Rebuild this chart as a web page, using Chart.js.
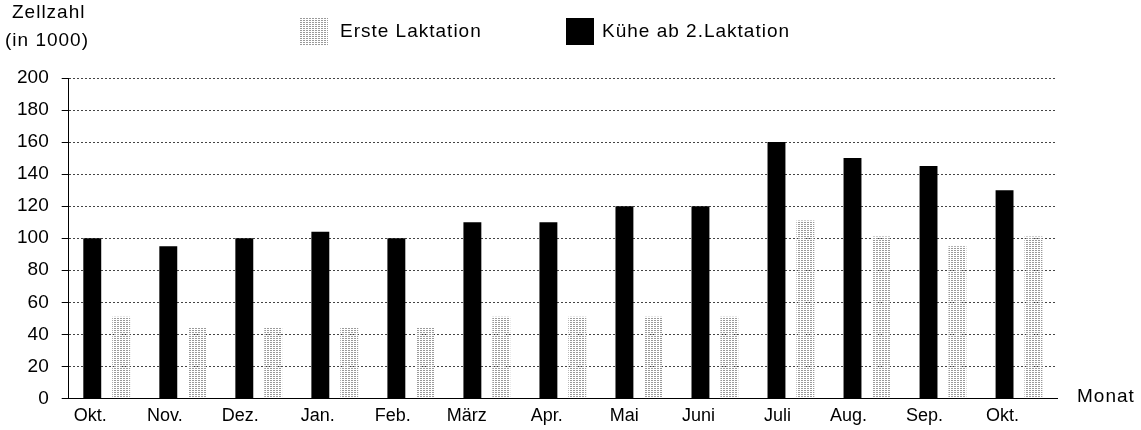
<!DOCTYPE html>
<html>
<head>
<meta charset="utf-8">
<script src="https://cdn.jsdelivr.net/npm/chart.js@4/dist/chart.umd.min.js"></script>
<style>
  html, body { margin: 0; padding: 0; background: #fff; }
  #wrap { width: 1141px; height: 430px; position: relative; }
</style>
</head>
<body>
<div id="wrap"><canvas id="zellChart"></canvas></div>
<script>
const months = ['Okt.', 'Nov.', 'Dez.', 'Jan.', 'Feb.', 'März', 'Apr.', 'Mai', 'Juni', 'Juli', 'Aug.', 'Sep.', 'Okt.'];
const kueheAb2 = [100, 95, 100, 104, 100, 110, 110, 120, 120, 160, 150, 145, 130];
const ersteLaktation = [51, 44, 44, 44, 44, 51, 51, 51, 51, 111, 101, 95, 101];
const yTicks = [0, 20, 40, 60, 80, 100, 120, 140, 160, 180, 200];

const FONT = '"Liberation Sans", Arial, sans-serif';

// light gray dot pattern for the first-lactation bars
function dotPattern() {
    const c = document.createElement('canvas');
    c.width = 3;
    c.height = 2;
    const g = c.getContext('2d');
    g.fillStyle = '#9a9a9a';
    g.fillRect(0, 0, 2, 1);
    return g.createPattern(c, 'repeat');
}

// axis captions + legend drawn by hand (legend sits beside the y caption)
const captions = {
    id: 'captions',
    afterDraw(chart) {
        const ctx = chart.ctx;
        ctx.save();
        ctx.fillStyle = '#000';
        ctx.font = '19px ' + FONT;
        ctx.letterSpacing = '1px';
        ctx.textBaseline = 'top';
        ctx.textAlign = 'left';
        ctx.fillText('Zellzahl', 12, 3);
        ctx.fillText('(in 1000)', 5, 31);
        ctx.textBaseline = 'middle';
        ctx.fillText('Monat', chart.chartArea.right + 20, chart.chartArea.bottom - 2);

        // legend: first lactation first, then the older cows
        const items = [chart.data.datasets[1], chart.data.datasets[0]];
        const slots = [{ box: 299, text: 340, w: 29 }, { box: 566, text: 602, w: 28 }];
        items.forEach((ds, i) => {
            ctx.fillStyle = ds.backgroundColor;
            ctx.fillRect(slots[i].box, 18, slots[i].w, 27);
            ctx.fillStyle = '#000';
            ctx.fillText(ds.label, slots[i].text, 32);
        });
        ctx.restore();
    }
};

const chart = new Chart(document.getElementById('zellChart'), {
    type: 'bar',
    data: {
        labels: months,
        datasets: [
            {
                label: 'Kühe ab 2.Laktation',
                data: kueheAb2,
                backgroundColor: '#000',
                borderWidth: 0
            },
            {
                label: 'Erste Laktation',
                data: ersteLaktation,
                backgroundColor: dotPattern(),
                borderWidth: 0
            }
        ]
    },
    options: {
        responsive: true,
        maintainAspectRatio: false,
        animation: false,
        layout: { padding: { left: 4, right: 84, top: 78, bottom: -4 } },
        datasets: {
            bar: { categoryPercentage: 0.76, barPercentage: 0.62 }
        },
        scales: {
            x: {
                grid: { display: false, drawTicks: false },
                border: { color: '#000', width: 1 },
                ticks: {
                    color: '#000',
                    font: { family: FONT, size: 18 },
                    align: 'end',
                    padding: 7,
                    maxRotation: 0,
                    autoSkip: false
                }
            },
            y: {
                min: 0,
                max: 200,
                afterBuildTicks(axis) {
                    axis.ticks = yTicks.map(v => ({ value: v }));
                },
                grid: {
                    color: '#444',
                    tickBorderDash: [],
                    tickColor: '#000',
                    tickLength: 7
                },
                border: { color: '#000', width: 1, dash: [2, 2] },
                ticks: {
                    color: '#000',
                    font: { family: FONT, size: 19 },
                    padding: 13
                }
            }
        },
        plugins: {
            legend: { display: false },
            tooltip: { enabled: false }
        }
    },
    plugins: [captions]
});
</script>
</body>
</html>
